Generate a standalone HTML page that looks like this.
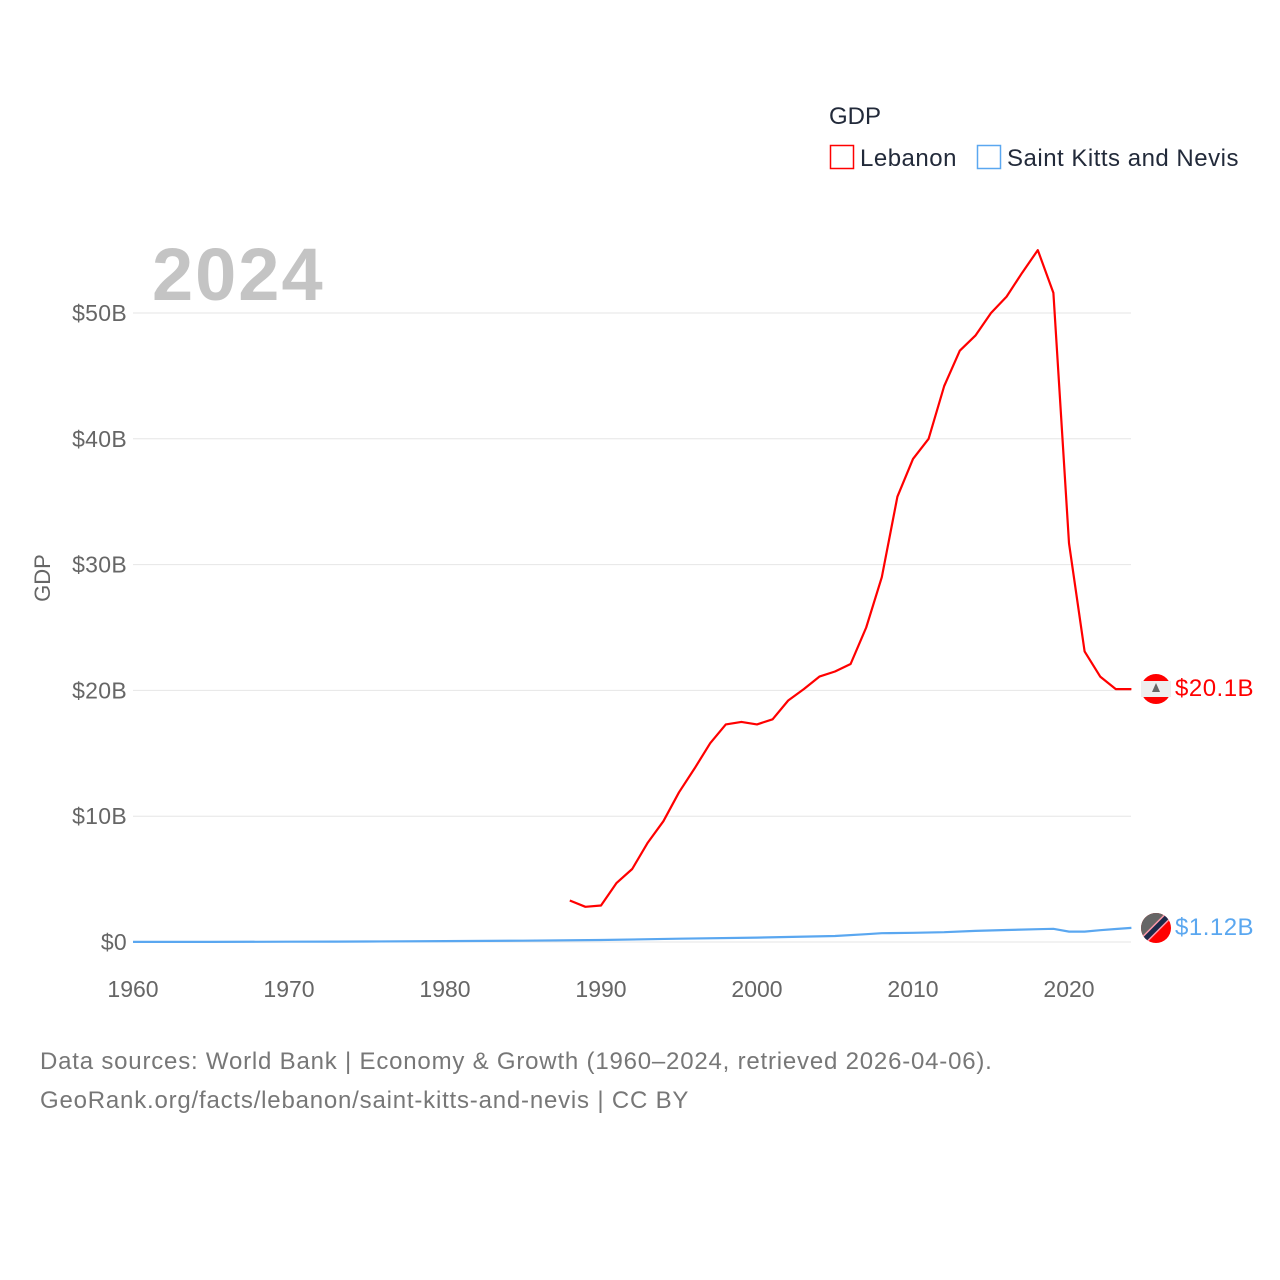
<!DOCTYPE html>
<html><head><meta charset="utf-8"><style>
body{margin:0;background:#fff;font-family:"Liberation Sans",sans-serif;}
svg{display:block}
</style></head><body>
<svg id="chart" width="1280" height="1280" viewBox="0 0 1280 1280">
<g>
<text x="829" y="124" font-size="24" fill="#222a3a">GDP</text>
<g><rect x="830.5" y="145.5" width="23" height="23" fill="none" stroke="#f00" stroke-width="1.5"/><text x="860" y="166" font-size="24" fill="#222a3a" letter-spacing="0.5">Lebanon</text></g>
<g><rect x="977.5" y="145.5" width="23" height="23" fill="none" stroke="#5aa7f0" stroke-width="1.5"/><text x="1007" y="166" font-size="24" fill="#222a3a" letter-spacing="0.5">Saint Kitts and Nevis</text></g>
</g>
<text x="152" y="300" font-size="74" font-weight="bold" fill="#c4c4c4" letter-spacing="2">2024</text>
<text transform="translate(50,578) rotate(-90)" text-anchor="middle" font-size="22" fill="#666">GDP</text>
<g id="grid"></g><g id="yticks"></g><g id="xticks"></g><g id="lines"></g>
<g>
<circle cx="1156" cy="689" r="15" fill="#f00"/><rect x="1141" y="681" width="30" height="16" fill="#eee"/><polygon points="1156,683 1152,692 1160,692" fill="#666"/>
<text x="1175" y="696" font-size="24" fill="#f00" letter-spacing="0.5">$20.1B</text></g>
<g>
<clipPath id="cp"><circle cx="1156" cy="928" r="15"/></clipPath>
<g clip-path="url(#cp)"><rect x="1140" y="912" width="32" height="32" fill="#f00"/><polygon points="1140,912 1172,912 1140,944" fill="#666"/><line x1="1142" y1="942" x2="1170" y2="914" stroke="#f9a" stroke-width="8"/><line x1="1142" y1="942" x2="1170" y2="914" stroke="#1d2a4a" stroke-width="5"/></g>
<text x="1175" y="935" font-size="24" fill="#5aa7f0" letter-spacing="0.5">$1.12B</text></g>
<text x="40" y="1069" font-size="24" fill="#777" letter-spacing="0.8">Data sources: World Bank | Economy &amp; Growth (1960–2024, retrieved 2026-04-06).</text>
<text x="40" y="1108" font-size="24" fill="#777" letter-spacing="0.8">GeoRank.org/facts/lebanon/saint-kitts-and-nevis | CC BY</text>
</svg>
<script>
const lebYears=[1988,1989,1990,1991,1992,1993,1994,1995,1996,1997,1998,1999,2000,2001,2002,2003,2004,2005,2006,2007,2008,2009,2010,2011,2012,2013,2014,2015,2016,2017,2018,2019,2020,2021,2022,2023,2024];
const lebValues=[3.3,2.8,2.9,4.7,5.8,7.9,9.6,11.9,13.8,15.8,17.3,17.5,17.3,17.7,19.2,20.1,21.1,21.5,22.1,25.0,29.0,35.4,38.4,40.0,44.2,47.0,48.2,50.0,51.3,53.2,55.0,51.6,31.7,23.1,21.1,20.1,20.1];
const sknYears=[1960,1965,1970,1973,1975,1980,1985,1990,1995,2000,2005,2007,2008,2010,2012,2014,2016,2018,2019,2020,2021,2022,2023,2024];
const sknValues=[0.01,0.01,0.02,0.03,0.04,0.07,0.1,0.16,0.26,0.35,0.48,0.62,0.7,0.73,0.78,0.88,0.95,1.02,1.05,0.83,0.83,0.94,1.03,1.12];
const yTicks=[0,10,20,30,40,50];
const yTickLabels=["$0","$10B","$20B","$30B","$40B","$50B"];
const xTicks=[1960,1970,1980,1990,2000,2010,2020];
const X=y=>133+(y-1960)*15.6;
const Y=v=>942-v*12.58;
const NS="http://www.w3.org/2000/svg";
function mk(t,a,p){const e=document.createElementNS(NS,t);for(const k in a)e.setAttribute(k,a[k]);p.appendChild(e);return e;}
const grid=document.getElementById('grid'),yt=document.getElementById('yticks'),xt=document.getElementById('xticks'),ln=document.getElementById('lines');
yTicks.forEach((v,i)=>{
 const l=mk('line',{x1:133,x2:1131,y1:Y(v),y2:Y(v),stroke:'#e6e6e6','stroke-width':1},grid);
 
 
 const t=mk('text',{x:127,y:Y(v)+8,'text-anchor':'end','font-size':23,fill:'#666','letter-spacing':0.3},yt);t.textContent=yTickLabels[i];
 
 
});
xTicks.forEach(v=>{
 const t=mk('text',{x:X(v),y:997,'text-anchor':'middle','font-size':23,fill:'#666'},xt);t.textContent=v;
 
 
});
function path(ys,vs){return ys.map((y,i)=>(i?'L':'M')+X(y).toFixed(1)+','+Y(vs[i]).toFixed(1)).join('');}
const p2=mk('path',{d:path(sknYears,sknValues),fill:'none',stroke:'#5aa7f0','stroke-width':2.2},ln);


const p1=mk('path',{d:path(lebYears,lebValues),fill:'none',stroke:'#f00','stroke-width':2.2,'stroke-linejoin':'round'},ln);


</script>
</body></html>
